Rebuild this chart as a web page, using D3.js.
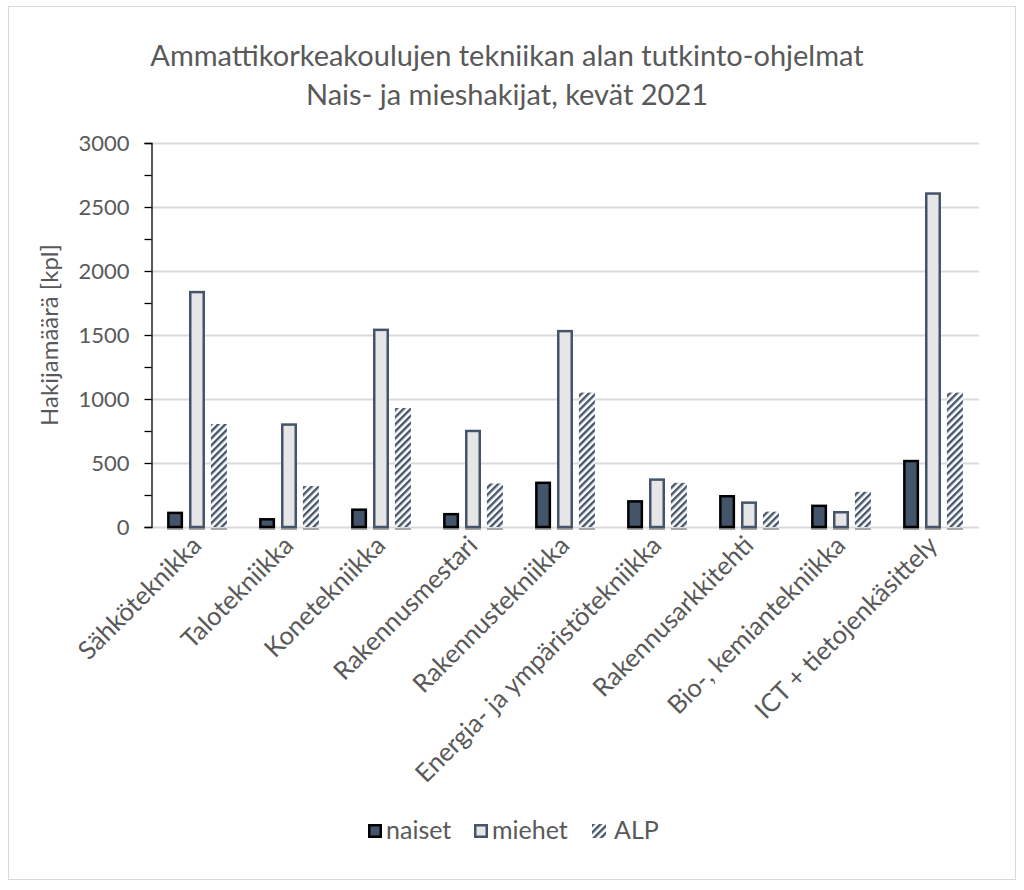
<!DOCTYPE html>
<html><head><meta charset="utf-8">
<script src="https://cdn.jsdelivr.net/npm/d3@7"></script>
<style>body{margin:0;background:#fff}</style>
</head><body>
<svg id="c" width="1024" height="890"></svg>
<script>
const categories = ["Sähköteknikka","Talotekniikka","Konetekniikka","Rakennusmestari","Rakennustekniikka","Energia- ja ympäristötekniikka","Rakennusarkkitehti","Bio-, kemiantekniikka","ICT + tietojenkäsittely"];
const naiset = [120, 70, 145, 110, 355, 210, 250, 175, 525];
const miehet = [1845, 810, 1550, 760, 1540, 380, 200, 125, 2615];
const alp = [805, 320, 930, 340, 1050, 345, 120, 275, 1050];
const seriesNames = ["naiset","miehet","ALP"];
const yTicks = [0,500,1000,1500,2000,2500,3000];
const titleLines = ["Ammattikorkeakoulujen tekniikan alan tutkinto-ohjelmat","Nais- ja mieshakijat, kevät 2021"];
const yLabel = "Hakijamäärä [kpl]";

const font = "Lato, 'Open Sans', sans-serif";
const textCol = "#595959";
const svg = d3.select("#c");
const defs = svg.append("defs");
const pat = defs.append("pattern").attr("id","hatch").attr("patternUnits","userSpaceOnUse")
  .attr("width",5).attr("height",5).attr("patternTransform","rotate(45)");
pat.append("rect").attr("width",5).attr("height",5).attr("fill","#fff");
pat.append("rect").attr("x",0).attr("width",2.4).attr("height",5).attr("fill","#44546a");

// frame
svg.append("rect").attr("x",8.5).attr("y",6.5).attr("width",1007).attr("height",873)
  .attr("fill","none").attr("stroke","#d9d9d9");

const x0 = d3.scaleBand().domain(categories).range([151,979]).paddingInner(0.35).paddingOuter(0.175);
const x1 = d3.scaleBand().domain(seriesNames).range([0,x0.bandwidth()]).paddingInner(0.27);
const y = d3.scaleLinear().domain([0,3000]).range([527,143]);

// gridlines
svg.append("g").selectAll("line").data(yTicks).join("line")
  .attr("x1",151).attr("x2",979).attr("y1",d=>y(d)+0.5).attr("y2",d=>y(d)+0.5)
  .attr("stroke","#d9d9d9").attr("stroke-width",2);

// y axis
const yAxis = svg.append("g").attr("transform","translate(151.5,0)")
  .call(d3.axisLeft(y).tickValues(d3.range(0,3001,250)).tickSize(7).tickFormat(d=> d%500===0? d : ""));
yAxis.select(".domain").attr("stroke","#000").attr("stroke-width",1.3);
yAxis.selectAll(".tick line").attr("stroke","#000").attr("stroke-width",1.3);
yAxis.selectAll(".tick text").attr("font-family",font).attr("font-size",22).attr("fill",textCol).attr("x",-22);

const data = categories.map((c,i)=>({c, vals:[naiset[i],miehet[i],alp[i]]}));
const styles = {
  naiset:{fill:"#44546a",stroke:"#000",sw:2.5},
  miehet:{fill:"#e7e6e6",stroke:"#44546a",sw:2.5},
  ALP:{fill:"url(#hatch)",stroke:"none",sw:0}
};
const groups = svg.append("g").selectAll("g").data(data).join("g")
  .attr("transform",d=>`translate(${x0(d.c)},0)`);
groups.selectAll("rect.shadow").data(d=>d.vals.map((v,k)=>({s:seriesNames[k],v}))).join("rect")
  .attr("class","shadow").attr("x",d=>x1(d.s)).attr("width",x1.bandwidth()).attr("y",y(0)+1).attr("height",2)
  .attr("fill","#a6a6a6");
groups.selectAll("rect.bar").data(d=>d.vals.map((v,k)=>({s:seriesNames[k],v}))).join("rect")
  .attr("class","bar")
  .attr("x",d=>x1(d.s)+styles[d.s].sw/2).attr("width",d=>x1.bandwidth()-styles[d.s].sw)
  .attr("y",d=>y(d.v)+styles[d.s].sw/2).attr("height",d=>y(0)-y(d.v)-styles[d.s].sw/2)
  .attr("fill",d=>styles[d.s].fill).attr("stroke",d=>styles[d.s].stroke).attr("stroke-width",d=>styles[d.s].sw);

// x labels
svg.append("g").selectAll("text").data(categories).join("text")
  .attr("transform",d=>`translate(${x0(d)+x0.bandwidth()/2+6},${547}) rotate(-45)`)
  .attr("text-anchor","end").attr("font-family",font).attr("font-size",25.5).attr("fill",textCol)
  .text(d=>d);

// title
svg.append("g").selectAll("text").data(titleLines).join("text")
  .attr("x",507).attr("y",(d,i)=>66+i*39).attr("text-anchor","middle")
  .attr("font-family",font).attr("font-size",29).attr("fill",textCol).text(d=>d);

// y label
svg.append("text").attr("transform","translate(58,335) rotate(-90)").attr("text-anchor","middle")
  .attr("font-family",font).attr("font-size",24).attr("fill",textCol).text(yLabel);

// legend
const legX = [368, 474, 592];
const leg = svg.append("g").selectAll("g").data(seriesNames).join("g")
  .attr("transform",(d,i)=>`translate(${legX[i]},824)`);
leg.append("rect").attr("x",d=>styles[d].sw/2).attr("y",d=>styles[d].sw/2)
  .attr("width",d=>14-styles[d].sw).attr("height",d=>14-styles[d].sw)
  .attr("fill",d=>styles[d].fill).attr("stroke",d=>styles[d].stroke).attr("stroke-width",d=>styles[d].sw);
leg.append("text").attr("x",d=>d==="ALP"?22:18).attr("y",15).attr("font-family",font).attr("font-size",25)
  .attr("fill",textCol).text(d=>d);
</script>
</body></html>
